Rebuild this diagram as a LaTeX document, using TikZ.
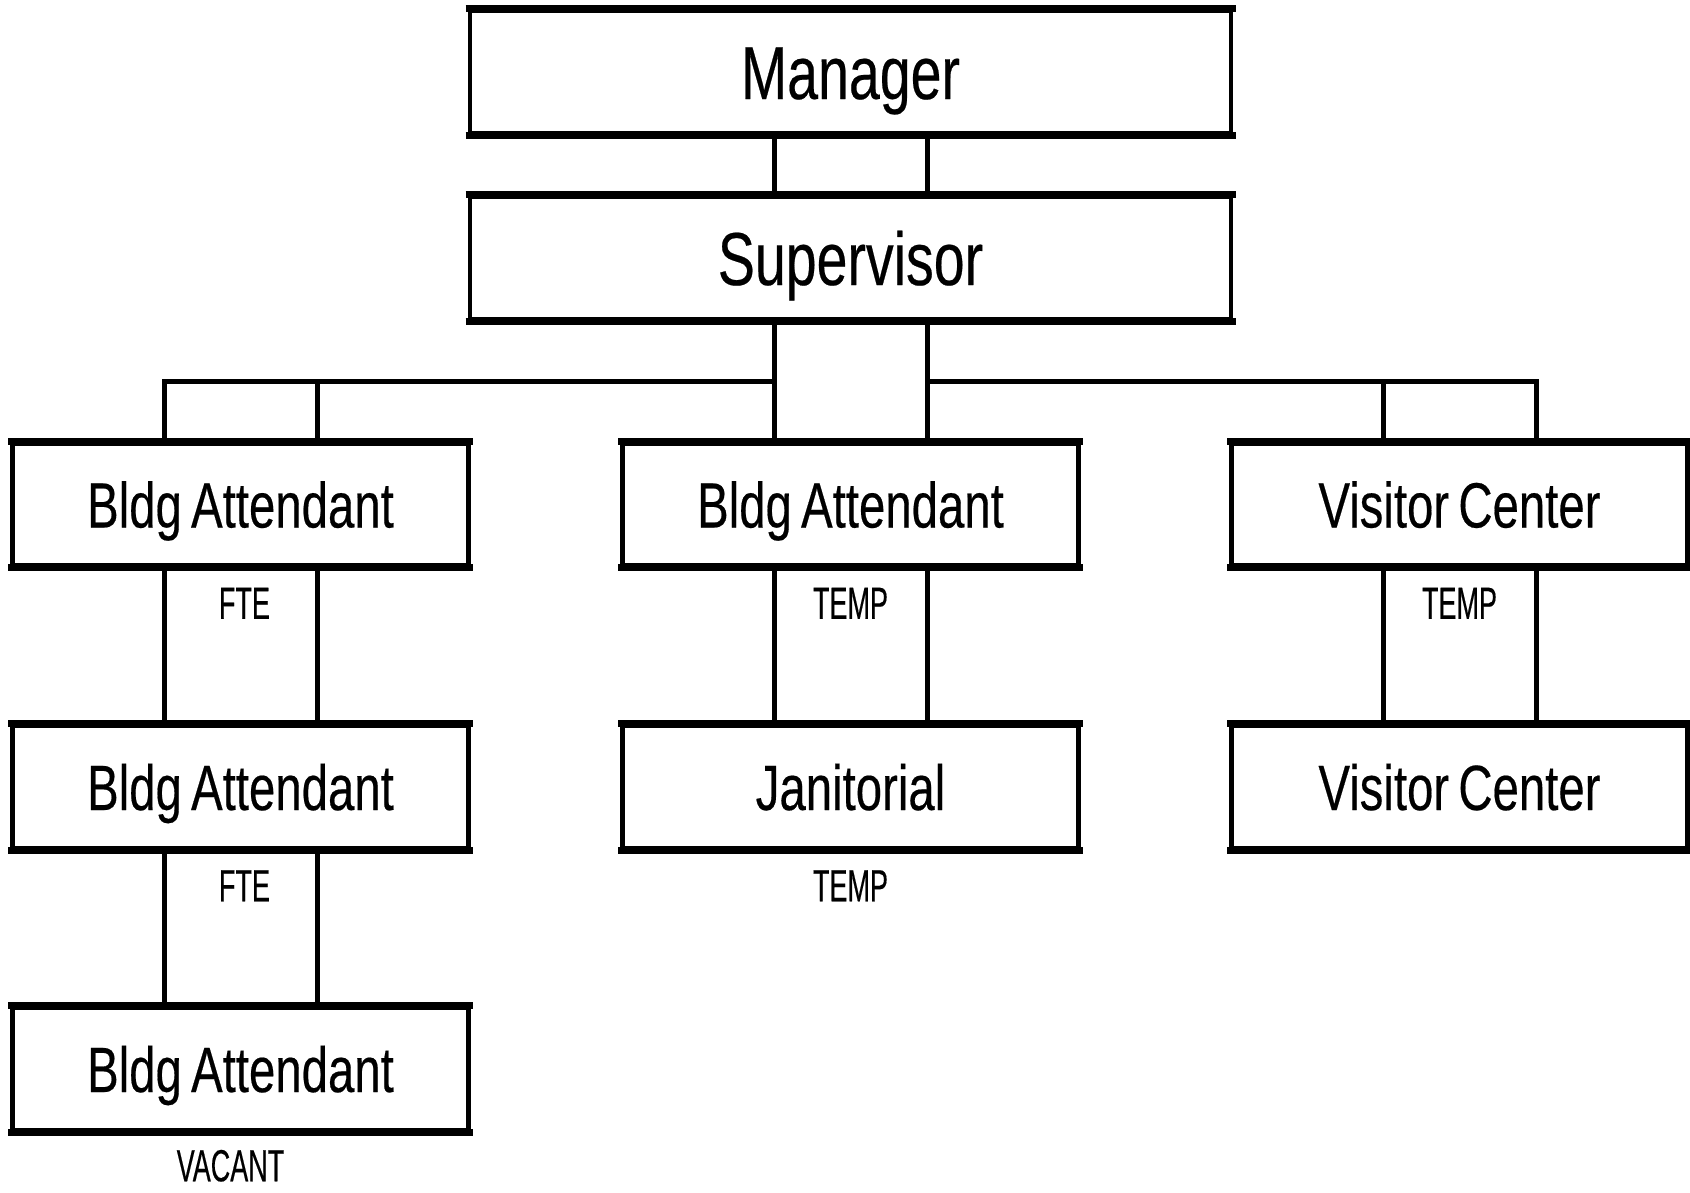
\documentclass[tikz,border=0pt]{standalone}
\usepackage{fontspec}
\setmainfont[FakeStretch=0.74,FakeBold=0.3,WordSpace=0.7]{Liberation Sans}
\newfontfamily\tagfont[FakeStretch=0.6,FakeBold=0.3]{Liberation Sans}
\usetikzlibrary{calc}
\tikzset{
  orgbox/.style={draw=black, line width=4.5pt, rectangle, inner sep=0pt,
    minimum height=122pt, text height=46pt, text depth=0pt,
    font=\fontsize{64}{70}\selectfont},
  bigbox/.style={orgbox, minimum width=761pt, text height=54pt,
    font=\fontsize{75}{80}\selectfont},
  colbox/.style={orgbox, minimum width=456pt},
  edge/.style={draw=black, line width=7pt},
  conn/.style={draw=black, line width=5pt},
  tag/.style={anchor=base, inner sep=0pt, font=\tagfont\fontsize{45}{48}\selectfont}
}
\begin{document}
\begin{tikzpicture}[x=1pt, y=-1pt]
\useasboundingbox (0,0) rectangle (1690,1192);
% boxes
\node[bigbox] (man) at (850.5,72) {Manager};
\node[bigbox] (sup) at (850.5,258) {Supervisor};
\node[colbox] (l1) at (240.5,504.5) {Bldg Attendant};
\node[colbox] (l2) at (240.5,787) {Bldg Attendant};
\node[colbox] (l3) at (240.5,1069) {Bldg Attendant};
\node[colbox] (m1) at (850.5,504.5) {Bldg Attendant};
\node[colbox] (m2) at (850.5,787) {Janitorial};
\node[colbox] (r1) at (1459.5,504.5) {Visitor Center};
\node[colbox] (r2) at (1459.5,787) {Visitor Center};
% thick top / bottom edges
\foreach \b in {man,sup,l1,l2,l3,m1,m2,r1,r2}{
  \draw[edge] ($(\b.north west)+(-2.25,0)$) -- ($(\b.north east)+(2.25,0)$);
  \draw[edge] ($(\b.south west)+(-2.25,0)$) -- ($(\b.south east)+(2.25,0)$);
}
% manager - supervisor
\draw[conn] ($(man.south)+(-76.5,0)$) -- ($(sup.north)+(-76.5,0)$);
\draw[conn] ($(man.south)+(76.5,0)$) -- ($(sup.north)+(76.5,0)$);
% supervisor - middle column
\draw[conn] ($(sup.south)+(-76.5,0)$) -- ($(m1.north)+(-76.5,0)$);
\draw[conn] ($(sup.south)+(76.5,0)$) -- ($(m1.north)+(76.5,0)$);
% bus bars
\coordinate (busl) at ($(sup.south)+(-76.5,60)$);
\coordinate (busr) at ($(sup.south)+(76.5,60)$);
\draw[conn] (busl) -| ($(l1.north)+(-76.5,0)$);
\draw[conn] ($(l1.north)+(76.5,0)$) |- (busl);
\draw[conn] (busr) -| ($(r1.north)+(76.5,0)$);
\draw[conn] ($(r1.north)+(-76.5,0)$) |- (busr);
% column links
\foreach \a/\b in {l1/l2,l2/l3,m1/m2,r1/r2}{
  \draw[conn] ($(\a.south)+(-76.5,0)$) -- ($(\b.north)+(-76.5,0)$);
  \draw[conn] ($(\a.south)+(76.5,0)$) -- ($(\b.north)+(76.5,0)$);
}
% tags
\node[tag] (t1) at ($(l1.south)+(4,51)$) {FTE};
\node[tag] (t2) at ($(m1.south)+(0,51)$) {TEMP};
\node[tag] (t3) at ($(r1.south)+(0,51)$) {TEMP};
\node[tag] (t4) at ($(l2.south)+(4,51)$) {FTE};
\node[tag] (t5) at ($(m2.south)+(0,51)$) {TEMP};
\node[tag] (t6) at ($(l3.south)+(-10,49)$) {VACANT};
\end{tikzpicture}
\end{document}
